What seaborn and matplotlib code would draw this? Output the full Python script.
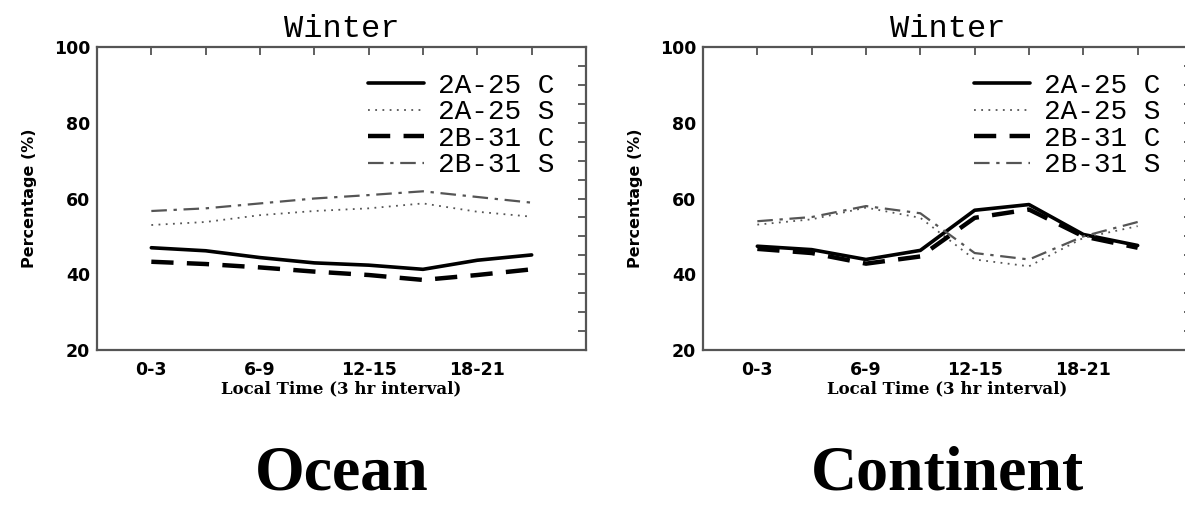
import pandas as pd
import seaborn as sns
import matplotlib.pyplot as plt
from matplotlib.ticker import MultipleLocator

# local time bins (3 hr), 8 points
slots = list(range(8))
tick_pos = [0, 2, 4, 6]
tick_labels = ["0-3", "6-9", "12-15", "18-21"]

series_names = ["2A-25 C", "2A-25 S", "2B-31 C", "2B-31 S"]

ocean_2a25_c = [47.0, 46.2, 44.4, 43.0, 42.4, 41.3, 43.7, 45.1]
ocean_2a25_s = [53.0, 53.8, 55.6, 56.7, 57.4, 58.7, 56.5, 55.2]
ocean_2b31_c = [43.3, 42.7, 41.8, 40.7, 39.8, 38.5, 39.8, 41.3]
ocean_2b31_s = [56.7, 57.4, 58.7, 60.0, 60.9, 61.9, 60.4, 58.9]

cont_2a25_c = [47.4, 46.5, 43.9, 46.3, 56.9, 58.4, 50.5, 47.6]
cont_2a25_s = [53.1, 54.5, 57.6, 54.9, 43.9, 42.1, 49.6, 52.7]
cont_2b31_c = [46.7, 45.6, 42.8, 44.7, 54.9, 57.1, 50.0, 47.0]
cont_2b31_s = [54.0, 55.1, 58.0, 56.1, 45.6, 43.9, 50.0, 53.8]

styles = {
    "2A-25 C": dict(color="black", lw=2.6, ls="-"),
    "2A-25 S": dict(color="#555555", lw=1.3, ls=(0, (1, 3))),
    "2B-31 C": dict(color="black", lw=3.2, ls=(0, (5, 3))),
    "2B-31 S": dict(color="#555555", lw=1.6, ls=(0, (7, 3, 1.5, 3))),
}

sns.set_style("white")
plt.rcParams["text.color"] = "black"
plt.rcParams["axes.labelcolor"] = "black"
plt.rcParams["xtick.color"] = "black"
plt.rcParams["ytick.color"] = "black"

fig = plt.figure(figsize=(11.85, 5.05), dpi=100)
ax1 = fig.add_axes([97 / 1185, 1 - 350 / 505, 489 / 1185, 303 / 505])
ax2 = fig.add_axes([703 / 1185, 1 - 350 / 505, 489 / 1185, 303 / 505])

panels = [
    (ax1, [ocean_2a25_c, ocean_2a25_s, ocean_2b31_c, ocean_2b31_s], "Ocean"),
    (ax2, [cont_2a25_c, cont_2a25_s, cont_2b31_c, cont_2b31_s], "Continent"),
]

for ax, vals, name in panels:
    for lab, v in zip(series_names, vals):
        st = styles[lab]
        sns.lineplot(x=slots, y=v, ax=ax, label=lab, color=st["color"],
                     linewidth=st["lw"], linestyle=st["ls"])
    ax.set_xlim(-1, 8)
    ax.set_ylim(20, 100)
    ax.set_xticks(tick_pos)
    ax.set_xticklabels(tick_labels, fontfamily="DejaVu Sans", fontweight="bold", fontsize=12.5)
    ax.xaxis.set_minor_locator(MultipleLocator(1))
    ax.yaxis.set_major_locator(MultipleLocator(20))
    ax.yaxis.set_minor_locator(MultipleLocator(5))
    for t in ax.get_yticklabels():
        t.set_fontfamily("DejaVu Sans")
        t.set_fontweight("bold")
        t.set_fontsize(12.5)
    ax.tick_params(which="both", direction="in", top=True, right=True,
                   length=6, width=1.2, color="#444444")
    ax.tick_params(axis="x", pad=8)
    ax.tick_params(axis="y", pad=5)
    for sp in ax.spines.values():
        sp.set_color("#555555")
        sp.set_linewidth(1.6)
    ax.set_ylabel("Percentage (%)", fontfamily="DejaVu Sans", fontweight="bold",
                  fontsize=11.5, labelpad=12)
    ax.set_xlabel("Local Time (3 hr interval)", fontfamily="DejaVu Serif",
                  fontweight="bold", fontsize=12, labelpad=1)
    ax.set_title("Winter", fontfamily="Liberation Mono", fontsize=23, pad=7)
    ax.legend(loc="upper left", bbox_to_anchor=(0.555, 0.915), frameon=False,
              prop={"family": "Liberation Mono", "size": 20},
              handlelength=2.0, handletextpad=0.5, labelspacing=0.02,
              borderaxespad=0, borderpad=0)
    ax.text(0.5, -0.462, name, transform=ax.transAxes, ha="center", va="baseline",
            fontfamily="Liberation Serif", fontweight="bold", fontsize=46)

fig.savefig("out.png", dpi=100)
